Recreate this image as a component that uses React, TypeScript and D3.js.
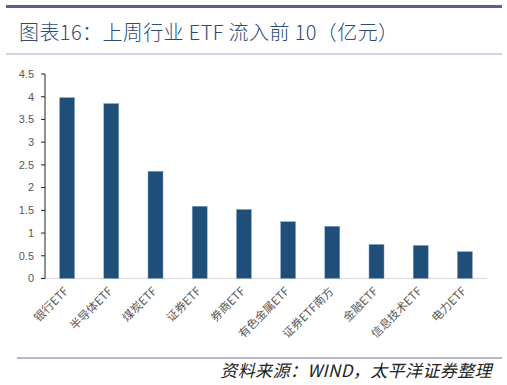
import React from "react";
import * as d3 from "d3";

const categories = ["银行ETF", "半导体ETF", "煤炭ETF", "证券ETF", "券商ETF", "有色金属ETF", "证券ETF南方", "金融ETF", "信息技术ETF", "电力ETF"];
const values = [3.98, 3.85, 2.36, 1.59, 1.52, 1.25, 1.15, 0.75, 0.73, 0.59];
const yTicks = [0, 0.5, 1, 1.5, 2, 2.5, 3, 3.5, 4, 4.5];
const title = "图表16：上周行业 ETF 流入前 10（亿元）";
const source = "资料来源：WIND，太平洋证券整理";

const W = 507, H = 385;
const plot = { left: 45, right: 487, top: 74, bottom: 278.5 };

export default function App() {
  const x = d3.scaleBand<string>().domain(categories).range([plot.left, plot.right]).paddingInner(0.66).paddingOuter(0.33);
  const y = d3.scaleLinear().domain([0, 4.5]).range([plot.bottom, plot.top]);
  const cjk = '"Noto Sans CJK SC", "Noto Sans", sans-serif';
  return (
    <svg width={W} height={H} style={{ position: "absolute", left: 0, top: 0, background: "#fff" }}>
      <rect x={6} y={5} width={496} height={3} fill="#5e5e92" />
      <text x={19} y={40} fontFamily={cjk} fontWeight={300} fontSize={20} letterSpacing={0.4} fill="#2d4a78">{title}</text>
      <rect x={6} y={53.5} width={496} height={1} fill="#a5a5c9" />

      {yTicks.map((t) => (
        <g key={t}>
          <line x1={41} x2={45} y1={y(t)} y2={y(t)} stroke="#222" strokeWidth={1} />
          <text x={34} y={y(t)} dy="0.35em" textAnchor="end" fontFamily={'"Liberation Sans", Arial, sans-serif'} fontSize={11} fill="#595959">{t}</text>
        </g>
      ))}
      <line x1={45} x2={plot.right} y1={plot.bottom} y2={plot.bottom} stroke="#d9d9d9" strokeWidth={1} />
      <line x1={45} x2={45} y1={plot.top} y2={plot.bottom} stroke="#222" strokeWidth={1} />

      {categories.map((c, i) => (
        <rect key={c} x={x(c)} y={y(values[i])} width={x.bandwidth()} height={plot.bottom - y(values[i])} fill="#1f4e79" stroke="#8eaacb" strokeWidth={0.5} />
      ))}

      {categories.map((c) => {
        const cx = (x(c) as number) + x.bandwidth() / 2 + 2;
        const cy = 292;
        return (
          <text key={c} x={cx} y={cy} textAnchor="end" transform={`rotate(-45 ${cx} ${cy})`} fontFamily={cjk} fontSize={11.5} fill="#595959">{c}</text>
        );
      })}

      <rect x={17} y={357.5} width={485} height={1} fill="#6f6fa8" />
      <text x={492} y={377} textAnchor="end" fontFamily={cjk} fontStyle="italic" fontSize={17} letterSpacing={0.4} fill="#222">{source}</text>
    </svg>
  );
}
